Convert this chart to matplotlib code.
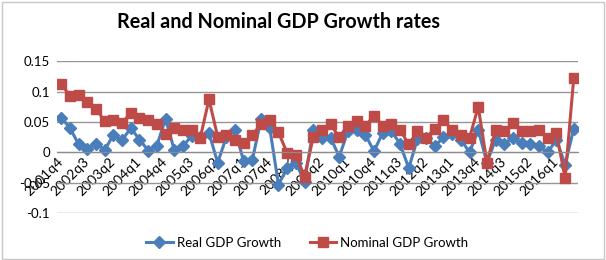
import matplotlib
matplotlib.use("Agg")
import matplotlib.pyplot as plt
from matplotlib.patches import Rectangle

# quarterly growth rates, 2001q4 .. 2016q3
quarters = [f"{2001 + (i + 3) // 4}q{(i + 3) % 4 + 1}" for i in range(60)]

real_gdp = [0.057, 0.040, 0.013, 0.006, 0.014, 0.004, 0.029, 0.020, 0.040, 0.021,
            0.003, 0.011, 0.055, 0.004, 0.010, 0.027, 0.025, 0.032, -0.017, 0.025,
            0.037, -0.015, -0.012, 0.055, 0.040, -0.053, -0.026, -0.017, -0.048, 0.037,
            0.024, 0.024, -0.007, 0.035, 0.037, 0.029, 0.002, 0.032, 0.035, 0.014,
            -0.026, 0.022, 0.024, 0.010, 0.025, 0.030, 0.021, 0.000, 0.037, -0.017,
            0.021, 0.013, 0.024, 0.015, 0.013, 0.010, 0.000, 0.021, -0.020, 0.039]

nominal_gdp = [0.112, 0.093, 0.095, 0.083, 0.072, 0.051, 0.054, 0.048, 0.065, 0.057,
               0.054, 0.047, 0.030, 0.040, 0.037, 0.036, 0.024, 0.087, 0.026, 0.029,
               0.021, 0.015, 0.029, 0.046, 0.054, 0.033, -0.001, -0.004, -0.040, 0.025,
               0.037, 0.046, 0.025, 0.044, 0.051, 0.044, 0.060, 0.044, 0.046, 0.037,
               0.013, 0.035, 0.024, 0.039, 0.053, 0.037, 0.029, 0.024, 0.075, -0.017,
               0.037, 0.035, 0.048, 0.035, 0.035, 0.037, 0.024, 0.032, -0.042, 0.123]

y_ticks = [-0.1, -0.05, 0, 0.05, 0.1, 0.15]
y_labels = ["-0.1", "-0.05", "0", "0.05", "0.1", "0.15"]

plt.rcParams["font.family"] = ["Lato", "DejaVu Sans"]

fig = plt.figure(figsize=(6.06, 2.6), dpi=100)
ax = fig.add_axes([0.094, 0.18, 0.86, 0.585])

# category axis crosses at zero, like the Excel original
for s in ["top", "right", "left"]:
    ax.spines[s].set_visible(False)
ax.spines["bottom"].set_position(("data", 0))
ax.spines["bottom"].set_color("#8c8c8c")

x = list(range(len(quarters)))
ax.plot(x, real_gdp, color="#4A7EBB", lw=2.2, marker="D", ms=6,
        label="Real GDP Growth")
ax.plot(x, nominal_gdp, color="#BE4B48", lw=2.2, marker="s", ms=7,
        label="Nominal GDP Growth")

ax.set_xlim(-0.5, len(quarters) - 0.5)
ax.set_ylim(-0.1, 0.15)
ax.set_yticks(y_ticks)
ax.set_yticklabels(y_labels, fontsize=9.5)
ax.grid(axis="y", color="#969696", lw=1)
ax.set_axisbelow(True)

ax.set_xticks(x[::3])
ax.set_xticklabels(quarters[::3], fontsize=10)
ax.tick_params(axis="both", length=0)
ax.tick_params(axis="x", pad=5)
ax.tick_params(axis="y", pad=5)
for lbl in ax.get_xticklabels():
    lbl.set_rotation(45)
    lbl.set_ha("right")
    lbl.set_va("center")
    lbl.set_rotation_mode("anchor")

fig.text(0.46, 0.915, "Real and Nominal GDP Growth rates", ha="center", va="center",
         fontsize=14.2, fontweight="bold")

fig.legend(loc="center", bbox_to_anchor=(0.507, 0.065), ncol=2, frameon=False,
           fontsize=9.5, handlelength=2.0, handletextpad=0.3, columnspacing=2.2)

fig.add_artist(Rectangle((0.003, 0.004), 0.993, 0.99, transform=fig.transFigure,
                         fill=False, edgecolor="#c8c8c8", lw=1))

fig.savefig("out.png", dpi=100)
